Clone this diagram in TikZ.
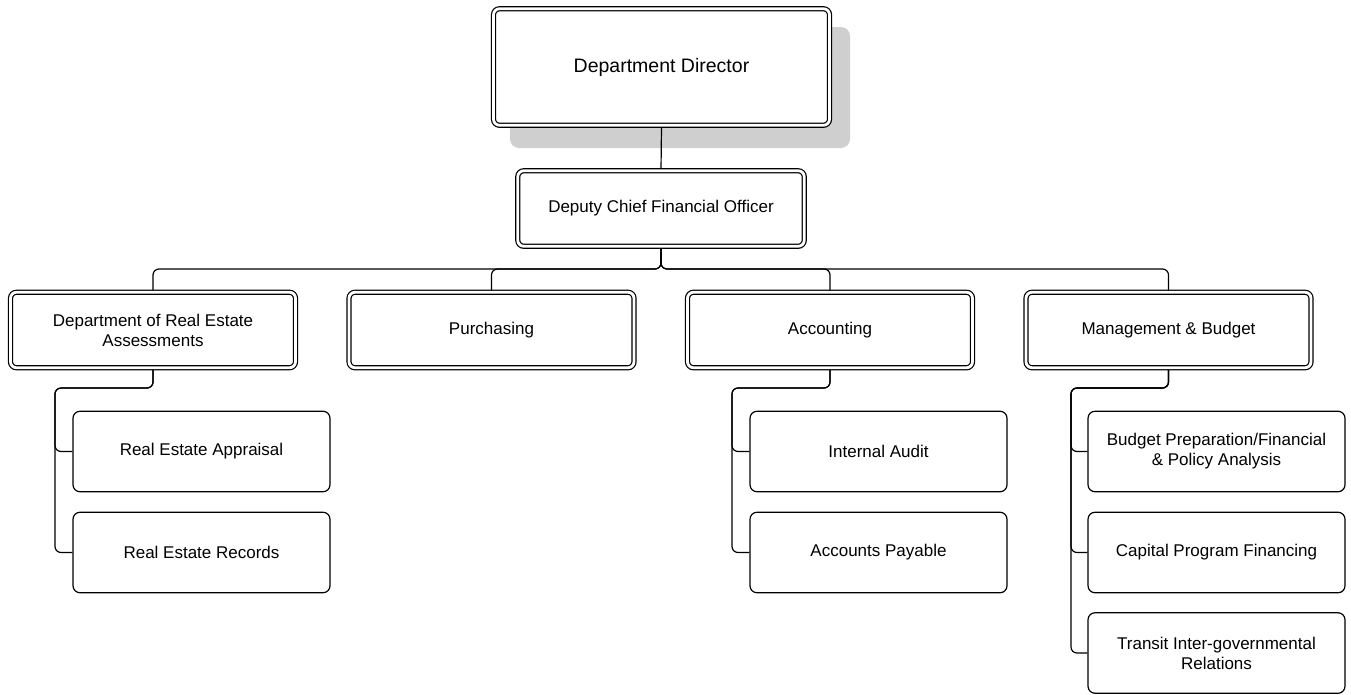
\documentclass[tikz,border=0pt]{standalone}
\usepackage{fontspec}
\setmainfont{Liberation Sans}
\usetikzlibrary{backgrounds}
\begin{document}
\begin{tikzpicture}[x=1pt,y=-1pt,
  every node/.style={align=center, inner sep=0pt, font=\fontsize{17}{20}\selectfont},
  dbox/.style={draw, double, double distance=2.8pt, line width=1.2pt, fill=white, rounded corners=6pt},
  lvbox/.style={dbox, minimum width=285pt, minimum height=75.5pt},
  cbox/.style={draw, line width=1.2pt, fill=white, rounded corners=7pt, minimum width=257pt, minimum height=80.5pt},
  conn/.style={draw, line width=1.2pt, rounded corners=6pt}]
\useasboundingbox (0,0) rectangle (1351,694);

\node[dbox, minimum width=336pt, minimum height=116.5pt, font=\fontsize{19.5}{23}\selectfont] (dir) at (661.5,67) {Department Director};
\node[dbox, minimum width=286.5pt, minimum height=75.5pt] (dep) at (661,208.5) {Deputy Chief Financial Officer};

\node[lvbox] (drea) at (153,330) {Department of Real Estate\\Assessments};
\node[lvbox] (pur) at (491.5,330) {Purchasing};
\node[lvbox] (acc) at (830,330) {Accounting};
\node[lvbox] (mb) at (1168.5,330) {Management \& Budget};

\node[cbox] (ra) at (201.5,451.5) {Real Estate Appraisal};
\node[cbox] (rr) at (201.5,552.5) {Real Estate Records};
\node[cbox] (ia) at (878.5,451.5) {Internal Audit};
\node[cbox] (ap) at (878.5,552.5) {Accounts Payable};
\node[cbox] (bp) at (1216.5,451.5) {Budget Preparation/Financial\\\& Policy Analysis};
\node[cbox] (cp) at (1216.5,552.5) {Capital Program Financing};
\node[cbox] (tr) at (1216.5,653) {Transit Inter-governmental\\Relations};

\coordinate (bus) at (661,269);
\coordinate (dreaBus) at (55,388);
\coordinate (accBus) at (732,388);
\coordinate (mbBus) at (1071,388);

\begin{pgfonlayer}{background}
  \fill[black!19, rounded corners=9pt] (510,27) rectangle (850,148);
  \draw[line width=1.2pt] (dir.south) -- (dep.north);
  \path[conn] (dep.south) -- (bus) -| (drea.north);
  \path[conn] (dep.south) -- (bus) -| (pur.north);
  \path[conn] (dep.south) -- (bus) -| (acc.north);
  \path[conn] (dep.south) -- (bus) -| (mb.north);
  \path[conn] (drea.south) |- (dreaBus) |- (ra.west);
  \path[conn] (drea.south) |- (dreaBus) |- (rr.west);
  \path[conn] (acc.south) |- (accBus) |- (ia.west);
  \path[conn] (acc.south) |- (accBus) |- (ap.west);
  \path[conn] (mb.south) |- (mbBus) |- (bp.west);
  \path[conn] (mb.south) |- (mbBus) |- (cp.west);
  \path[conn] (mb.south) |- (mbBus) |- (tr.west);
\end{pgfonlayer}
\end{tikzpicture}
\end{document}
